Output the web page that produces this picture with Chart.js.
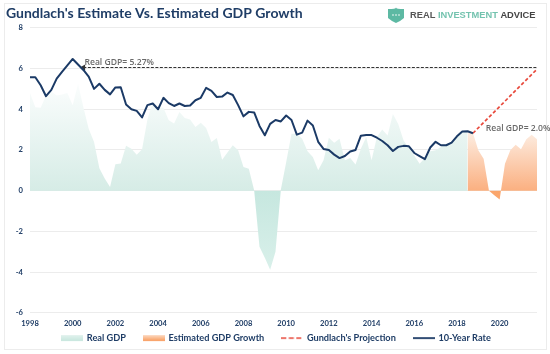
<!DOCTYPE html>
<html><head><meta charset="utf-8">
<style>
html,body{margin:0;padding:0;background:#fff}
#frame{position:absolute;left:4px;top:3px;width:541px;height:345px;border:1px solid #ececec;box-sizing:content-box}
#wrap{position:absolute;left:0;top:0;width:550px;height:354px}
</style>
<script src="https://cdn.jsdelivr.net/npm/chart.js@4"></script>
</head><body>
<div id="frame"></div>
<div id="wrap"><canvas id="c" width="550" height="354"></canvas></div>
<script>
const startYear = 1998;
const endYear = 2021;
const categories = [];
for (let y = startYear; y <= endYear; y++) for (let q = 1; q <= 4; q++) categories.push(y + ' Q' + q);

const rate10y = [5.57,5.57,5.18,4.64,4.95,5.5,5.84,6.15,6.47,6.2,5.93,5.6,5.0,5.25,4.95,4.73,5.07,5.08,4.23,4.0,3.92,3.6,4.2,4.28,4.0,4.56,4.3,4.16,4.28,4.16,4.18,4.44,4.56,5.05,4.9,4.6,4.62,4.82,4.7,4.2,3.65,3.87,3.84,3.18,2.72,3.28,3.47,3.4,3.69,3.47,2.75,2.85,3.44,3.2,2.4,2.05,2.0,1.77,1.6,1.7,1.92,2.0,2.7,2.73,2.73,2.6,2.44,2.23,1.95,2.15,2.2,2.18,1.85,1.7,1.55,2.12,2.4,2.23,2.23,2.36,2.67,2.9,2.92,2.82];
const realGDP = [4.8,4.1,4.07,4.67,4.87,4.67,4.72,4.8,4.2,5.25,4.1,3.04,2.39,1.1,0.6,0.18,1.3,1.33,2.2,2.06,1.76,2.03,3.5,4.35,4.1,4.07,3.46,3.3,3.87,3.57,3.5,3.13,3.34,3.08,2.39,2.59,1.52,1.87,2.23,1.98,1.16,1.08,0.02,-2.76,-3.3,-3.88,-3.0,0.05,1.4,2.8,2.8,2.55,1.93,1.65,1.0,1.49,2.6,2.35,2.55,1.49,1.6,1.29,2.06,2.63,1.49,2.63,3.0,2.71,3.77,3.28,2.47,2.09,1.73,1.32,1.6,1.93,1.98,2.14,2.3,2.39,2.63,2.88,2.88];
const estimatedOffset = 82;
const estimatedGDP = [2.88,2.83,1.98,1.57,0.0,-0.23,-0.44,1.32,1.98,2.25,2.03,2.52,2.75,2.52];
const projectionFromIndex = 83, projectionFrom = 2.82;
const projectionToIndex = 95, projectionTo = 5.97;
const realRefFromIndex = 10, realRefValue = 6.05;
const seriesNames = ['Real GDP','Estimated GDP Growth',"Gundlach's Projection",'10-Year Rate'];
const titleText = "Gundlach's Estimate Vs. Estimated GDP Growth";
const note1 = 'Real GDP= 5.27%';
const note2 = 'Real GDP= 2.0%';

const navy = '#1f3d66';

function pad(arr, off){ const a = new Array(categories.length).fill(null); arr.forEach((v,i)=>a[i+off]=v); return a; }
function twoPoint(i0,v0,i1,v1){ const a = new Array(categories.length).fill(null); a[i0]=v0; a[i1]=v1; return a; }

function gradient(chart, stops){
  const {ctx, chartArea, scales} = chart;
  if(!chartArea) return 'rgba(0,0,0,0)';
  const y = scales.y;
  const top = y.getPixelForValue(stops[0][0]), bot = y.getPixelForValue(stops[stops.length-1][0]);
  const g = ctx.createLinearGradient(0, top, 0, bot);
  stops.forEach(s => g.addColorStop((y.getPixelForValue(s[0])-top)/(bot-top), s[1]));
  return g;
}
const greenFill = c => gradient(c.chart, [[5.3,'#fbfdfd'],[0.02,'#d6ece6'],[-0.02,'#c6e7df'],[-3.9,'#d9f0ea']]);
const orangeFill = c => gradient(c.chart, [[2.9,'#fdeee3'],[0.02,'#fbb081'],[-0.02,'#faa56b'],[-0.5,'#fba86f']]);

function swatch(kind){
  const cv = document.createElement('canvas'); cv.width = 22; cv.height = 8;
  const x = cv.getContext('2d');
  if(kind===0){ const g=x.createLinearGradient(0,0,0,6); g.addColorStop(0,'#e6f4f0'); g.addColorStop(1,'#cbe8e0'); x.fillStyle=g; x.fillRect(0,1,22,6); }
  if(kind===1){ const g=x.createLinearGradient(0,0,0,6); g.addColorStop(0,'#fde3d1'); g.addColorStop(1,'#f9a56c'); x.fillStyle=g; x.fillRect(0,1,22,6); }
  if(kind===2){ x.strokeStyle='#e8493c'; x.lineWidth=1.5; x.setLineDash([5,2.5]); x.beginPath(); x.moveTo(0,4); x.lineTo(22,4); x.stroke(); }
  if(kind===3){ x.strokeStyle='#1b3a66'; x.lineWidth=1.8; x.beginPath(); x.moveTo(0,4); x.lineTo(22,4); x.stroke(); }
  return cv;
}

const overlay = {
  id:'overlay',
  beforeDraw(chart){
    const l = chart.legend;
    l.top = 315.5; l.left += 5; l.right += 5;
  },
  afterDraw(chart){
    const {ctx, scales:{x,y}} = chart;
    ctx.save();
    ctx.font = '600 8.6px "Open Sans"'; ctx.fillStyle = '#6a6a6a'; ctx.textBaseline='middle'; ctx.textAlign='left';
    ctx.fillText(note1, x.getPixelForValue(10.2), y.getPixelForValue(6.3));
    ctx.fillText(note2, x.getPixelForValue(85.4), y.getPixelForValue(3.03));
    // logo
    ctx.fillStyle='#5db9a3';
    ctx.beginPath(); ctx.moveTo(388,9); ctx.quadraticCurveTo(396,9,396,7.5); ctx.quadraticCurveTo(396,9,404,9);
    ctx.lineTo(404,18); ctx.quadraticCurveTo(400,21.5,396,23); ctx.quadraticCurveTo(392,21.5,388,18); ctx.closePath(); ctx.fill();
    ctx.fillStyle='#fff'; [393,396,399].forEach(px=>{ctx.beginPath();ctx.arc(px,15,0.8,0,7);ctx.fill();});
    ctx.font='bold 9.3px "Liberation Sans"'; ctx.textBaseline='middle';
    let tx=410; const ty=15;
    [['REAL ','#555'],['INVESTMENT ','#74c3af'],['ADVICE','#444']].forEach(p=>{ctx.fillStyle=p[1];ctx.fillText(p[0],tx,ty);tx+=ctx.measureText(p[0]).width;});
    ctx.restore();
  }
};

const base = {pointRadius:0,pointHoverRadius:0,tension:0};
new Chart(document.getElementById('c'),{
  type:'line',
  plugins:[overlay],
  data:{labels:categories,datasets:[
    {...base,label:seriesNames[0],data:pad(realGDP,0),order:5,borderWidth:0,borderColor:'transparent',backgroundColor:greenFill,fill:'origin'},
    {...base,label:seriesNames[1],data:pad(estimatedGDP,estimatedOffset),order:4,borderWidth:0,borderColor:'transparent',backgroundColor:orangeFill,fill:'origin'},
    {...base,label:seriesNames[2],data:twoPoint(projectionFromIndex,projectionFrom,projectionToIndex,projectionTo),order:2,spanGaps:true,borderColor:'#e8493c',borderWidth:1.7,borderDash:[3.5,2.2],fill:false},
    {...base,label:seriesNames[3],data:pad(rate10y,0),order:1,borderColor:'#1b3a66',borderWidth:2,fill:false,borderJoinStyle:'round'},
    {...base,label:'ref',data:twoPoint(realRefFromIndex,realRefValue,projectionToIndex,realRefValue),order:3,spanGaps:true,borderColor:'#333',borderWidth:1.2,borderDash:[3,1.5],fill:false,
      pointRadius:c=>c.dataIndex===realRefFromIndex?3.5:0,pointStyle:'triangle',pointRotation:-90,pointBackgroundColor:'#333',pointBorderWidth:0}
  ]},
  options:{
    responsive:false,animation:false,
    layout:{padding:{left:6,right:13,top:5,bottom:-13}},
    interaction:{mode:null},
    scales:{
      x:{type:'category',offset:false,grid:{display:false,drawTicks:false},border:{display:false},
        afterFit:s=>{s.height=17;},
        ticks:{autoSkip:false,maxRotation:0,minRotation:0,padding:6,color:navy,font:{family:'Lato',size:7.6,weight:'bold'},
          callback(v,i){return i%8===0?categories[i].slice(0,4):null;}}},
      y:{min:-6,max:8,grid:{color:'#ececec',lineWidth:1,drawTicks:false},border:{display:false},
        afterFit:s=>{s.width=24;},
        ticks:{stepSize:2,padding:7,color:navy,font:{family:'Lato',size:7.6,weight:'bold'}}}
    },
    plugins:{
      tooltip:{enabled:false},
      title:{display:true,text:titleText,align:'start',color:navy,font:{family:'Lato',size:14,weight:'bold'},padding:{top:0,bottom:6}},
      legend:{position:'bottom',align:'center',
        labels:{usePointStyle:true,pointStyleWidth:20,padding:18,color:navy,font:{family:'Lato',size:9.2,weight:'bold'},
          generateLabels(){return seriesNames.map((n,i)=>({text:n,pointStyle:swatch(i),fontColor:navy,datasetIndex:i,lineWidth:0,strokeStyle:'transparent',fillStyle:'transparent'}));}
        }}
    }
  }
});
</script>
</body></html>
